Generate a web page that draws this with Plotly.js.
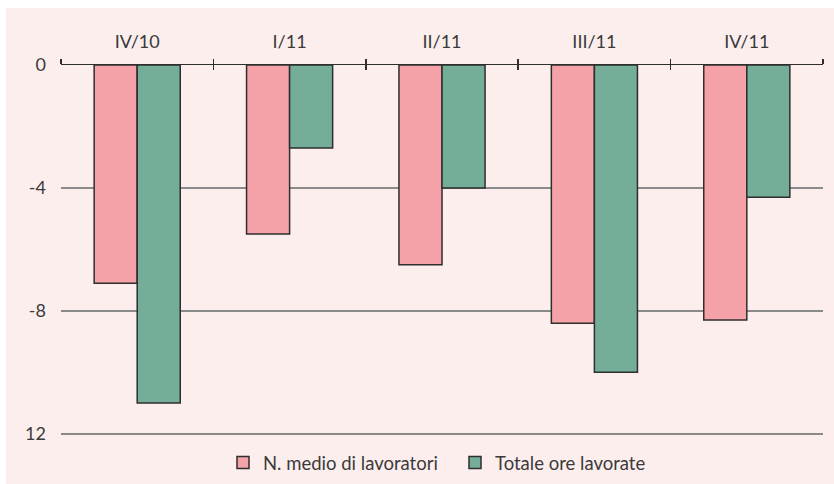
<!DOCTYPE html>
<html>
<head>
<meta charset="utf-8">
<script src="https://cdn.plot.ly/plotly-3.0.1.min.js"></script>
<style>
html,body{margin:0;padding:0;background:#ffffff;}
#chart{position:absolute;left:6px;top:8px;width:828px;height:476px;}
</style>
</head>
<body>
<div id="chart"></div>
<script>
const categories = ["IV/10", "I/11", "II/11", "III/11", "IV/11"];
const lavoratori = [-7.1, -5.5, -6.5, -8.4, -8.3];
const oreLavorate = [-11.0, -2.7, -4.0, -10.0, -4.3];
const yTickVals = [0, -4, -8, -12];
const yTickText = ["0", "-4", "-8", "12"];
const seriesNames = ["N. medio di lavoratori", "Totale ore lavorate"];

const font = {family: "Lato, Liberation Sans, Arial, sans-serif", size: 18, color: "#3a3a3a"};

const traces = [
  {type: "bar", name: seriesNames[0], x: categories, y: lavoratori,
   marker: {color: "#f4a1a8", line: {color: "#2e2e2e", width: 1.5}}, hoverinfo: "skip"},
  {type: "bar", name: seriesNames[1], x: categories, y: oreLavorate,
   marker: {color: "#74ad98", line: {color: "#2e2e2e", width: 1.5}}, hoverinfo: "skip"},
  {type: "scatter", mode: "none", x: categories, y: categories.map(() => null),
   xaxis: "x2", yaxis: "y", showlegend: false, hoverinfo: "skip"}
];

const layout = {
  width: 828, height: 476,
  paper_bgcolor: "#fdeeee", plot_bgcolor: "rgba(0,0,0,0)",
  font: font,
  margin: {l: 55, r: 11, t: 57, b: 49, pad: 0},
  barmode: "group", bargap: 0.435, bargroupgap: 0,
  showlegend: true,
  legend: {orientation: "h", xref: "container", yref: "container",
           x: 217 / 828, xanchor: "left", y: 21 / 476, yanchor: "middle",
           font: {family: font.family, size: 18.5, color: "#3a3a3a"},
           bgcolor: "rgba(0,0,0,0)", traceorder: "normal", itemwidth: 30,
           entrywidth: 187, entrywidthmode: "pixels"},
  xaxis: {type: "category", side: "top", range: [-0.5, 4.5],
          showline: true, linecolor: "#2e2e2e", linewidth: 1.5,
          ticks: "outside", tickson: "boundaries", ticklen: 5, tickwidth: 1.5, tickcolor: "#2e2e2e",
          showgrid: false, zeroline: false, ticklabelstandoff: 8, fixedrange: true},
  xaxis2: {type: "category", overlaying: "x", matches: "x", side: "top", anchor: "y",
           range: [-0.5, 4.5], showline: false, showgrid: false, zeroline: false,
           ticks: "inside", tickson: "boundaries", ticklen: 5, tickwidth: 1.5, tickcolor: "#2e2e2e",
           showticklabels: false, fixedrange: true},
  yaxis: {range: [-12.04, 0], tickvals: yTickVals, ticktext: yTickText,
          showgrid: true, gridcolor: "#8a8a8a", gridwidth: 1.5,
          zeroline: false, showline: false, ticks: "", ticklabelstandoff: 14, fixedrange: true}
};

Plotly.newPlot("chart", traces, layout, {displayModeBar: false, staticPlot: true});
</script>
</body>
</html>
